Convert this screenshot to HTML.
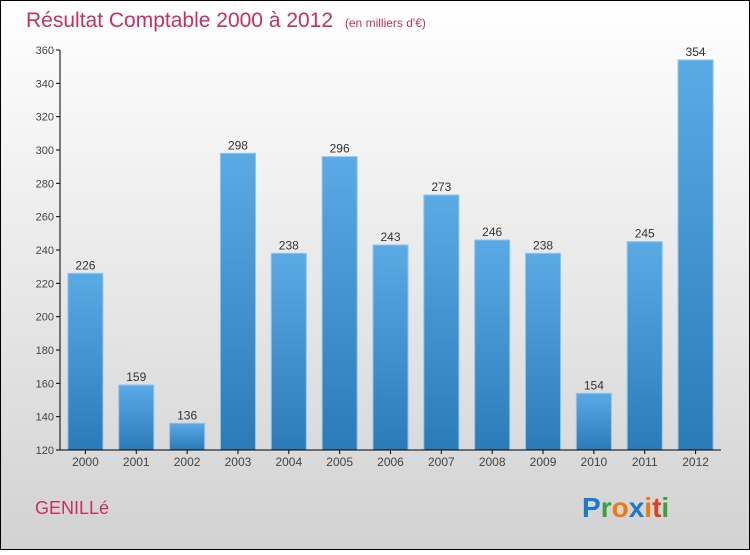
<!DOCTYPE html>
<html><head><meta charset="utf-8"><style>
html,body{margin:0;padding:0;}
body{width:750px;height:550px;overflow:hidden;font-family:"Liberation Sans",sans-serif;}
</style></head><body>
<svg id="c" width="750" height="550" xmlns="http://www.w3.org/2000/svg">
<defs>
<linearGradient id="bg" x1="0" y1="0" x2="0" y2="1"><stop offset="0" stop-color="#ffffff"/><stop offset="1" stop-color="#d2d2d2"/></linearGradient>
<linearGradient id="bar" x1="0" y1="0" x2="0" y2="1"><stop offset="0" stop-color="#5aaae6"/><stop offset="1" stop-color="#2a7bb8"/></linearGradient>
</defs>
<rect x="0.5" y="0.5" width="749" height="549" fill="url(#bg)" stroke="#000"/>
<text x="26" y="27" font-size="21" fill="#c8305f">Résultat Comptable 2000 à 2012 <tspan font-size="12" dx="6">(en milliers d'€)</tspan></text>
<text x="35" y="514" font-size="18" fill="#c8305f">GENILLé</text>
<g font-size="28" font-family="'Liberation Sans',sans-serif" font-weight="bold">
<text x="582" y="517"><tspan fill="#1a78d0">P</tspan><tspan fill="#3aa040">r</tspan><tspan fill="#f07810">o</tspan><tspan fill="#1a78d0">x</tspan><tspan fill="#f07810">i</tspan><tspan fill="#e04020">t</tspan><tspan fill="#3aa040">i</tspan></text>
</g>
<g id="plot"></g>
</svg>
<script>
const years=["2000","2001","2002","2003","2004","2005","2006","2007","2008","2009","2010","2011","2012"];
const values=[226,159,136,298,238,296,243,273,246,238,154,245,354];
const yTicks=[120,140,160,180,200,220,240,260,280,300,320,340,360];
const NS="http://www.w3.org/2000/svg";
const g=document.getElementById('plot');
const x0=60,x1=721,yTop=50,yBot=450,vMin=120,vMax=360;
const bw=(x1-x0)/years.length;
const y=v=>yBot-(v-vMin)/(vMax-vMin)*(yBot-yTop);
const xc=i=>x0+bw*(i+0.5);
function mk(t,a){const e=document.createElementNS(NS,t);for(const k in a)e.setAttribute(k,a[k]);g.appendChild(e);return e;}
yTicks.forEach(v=>{
 const l=mk('line',{x1:x0-4,x2:x0,y1:y(v),y2:y(v),stroke:'#000'});
 
 
 const t=mk('text',{x:x0-6,y:y(v)+4,'font-size':11,fill:'#444','text-anchor':'end'});
 t.textContent=v;
 
 
});
values.forEach((v,i)=>{
 const r=mk('rect',{x:xc(i)-17.5,y:y(v),width:35,height:yBot-y(v),fill:'url(#bar)',stroke:'#8cc4ee','stroke-width':1});
 
 
 const t=mk('text',{x:xc(i),y:y(v)-4,'font-size':12,fill:'#333','text-anchor':'middle'});
 t.textContent=v;
 
 
 const tk=mk('line',{x1:xc(i),x2:xc(i),y1:yBot,y2:yBot+4,stroke:'#000'});
 
 
 const xl=mk('text',{x:xc(i),y:yBot+16,'font-size':12,fill:'#444','text-anchor':'middle'});
 xl.textContent=years[i];
 
 
});
const ya=mk('line',{x1:x0,x2:x0,y1:yTop,y2:yBot,stroke:'#000'});


const xa=mk('line',{x1:x0,x2:x1,y1:yBot,y2:yBot,stroke:'#000'});


</script>
</body></html>
